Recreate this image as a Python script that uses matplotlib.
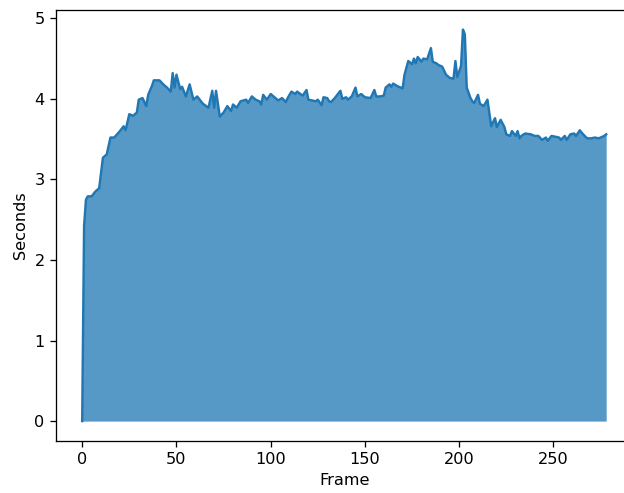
import matplotlib
matplotlib.use('Agg')
import matplotlib.pyplot as plt

# frame index and time per frame
frames = [0, 1, 2, 3, 5, 7, 9, 11, 13, 15, 17, 20, 22, 23, 25, 27, 29, 30, 32, 34,
          35, 37, 38, 41, 43, 45, 47, 48, 49, 50, 52, 53, 55, 57, 59, 61, 64, 67, 69, 70,
          71, 73, 75, 77, 79, 80, 82, 84, 87, 88, 90, 92, 94, 95, 96, 98, 100, 102, 104, 106,
          108, 109, 111, 113, 114, 117, 119, 120, 122, 124, 125, 127, 128, 130, 131, 132, 134, 137, 138, 140,
          141, 143, 145, 146, 148, 150, 153, 155, 156, 158, 160, 161, 163, 164, 165, 167, 168, 170, 171, 173,
          175, 176, 177, 178, 180, 181, 183, 185, 186, 188, 189, 191, 193, 195, 197, 198, 199, 201, 202, 203,
          204, 206, 207, 208, 210, 211, 213, 215, 217, 219, 220, 222, 224, 225, 227, 228, 230, 231, 232, 233,
          235, 238, 240, 242, 244, 246, 247, 249, 253, 254, 256, 257, 259, 261, 262, 264, 265, 267, 268, 270,
          272, 274, 276, 277, 278]
seconds = [0.0, 2.42, 2.75, 2.79, 2.79, 2.85, 2.89, 3.27, 3.31, 3.52, 3.52, 3.60, 3.66, 3.61, 3.81, 3.79, 3.83, 3.99, 4.01, 3.91,
           4.05, 4.16, 4.23, 4.23, 4.18, 4.14, 4.09, 4.32, 4.14, 4.30, 4.12, 4.15, 4.03, 4.18, 3.99, 4.03, 3.94, 3.89, 4.10, 3.89,
           4.10, 3.78, 3.83, 3.91, 3.85, 3.93, 3.89, 3.97, 3.99, 3.95, 4.03, 3.99, 3.97, 3.93, 4.05, 3.99, 4.06, 4.02, 3.98, 4.01,
           3.96, 4.01, 4.09, 4.06, 4.09, 4.04, 4.11, 3.99, 3.98, 3.97, 3.99, 3.92, 4.02, 4.01, 3.97, 3.96, 4.01, 4.10, 4.00, 4.02,
           3.99, 4.03, 4.14, 4.03, 4.06, 4.02, 4.01, 4.11, 4.03, 4.03, 4.04, 4.14, 4.18, 4.15, 4.19, 4.16, 4.15, 4.13, 4.30, 4.47,
           4.43, 4.50, 4.44, 4.52, 4.46, 4.50, 4.49, 4.63, 4.46, 4.44, 4.42, 4.40, 4.30, 4.26, 4.25, 4.47, 4.27, 4.41, 4.86, 4.80,
           4.14, 4.01, 3.97, 3.95, 4.05, 3.94, 3.91, 3.99, 3.66, 3.76, 3.65, 3.74, 3.65, 3.56, 3.54, 3.60, 3.54, 3.60, 3.51, 3.54,
           3.57, 3.56, 3.54, 3.54, 3.49, 3.52, 3.48, 3.54, 3.52, 3.49, 3.54, 3.49, 3.56, 3.57, 3.54, 3.61, 3.58, 3.53, 3.51, 3.51,
           3.52, 3.51, 3.53, 3.54, 3.56]

# the reference is a zoomed-in crop of a default figure, so render at a higher dpi
DPI = 116.4
fig = plt.figure(figsize=(624 / DPI, 493 / DPI), dpi=DPI)
# right spine sits just outside the picture, as in the reference crop
ax = fig.add_axes([56 / 624, 52.3 / 493, 576.4 / 624, 430.7 / 493])

ax.fill_between(frames, seconds, color='C0', alpha=0.75, linewidth=0)
ax.plot(frames, seconds, color='C0', linewidth=1.5)

ax.set_xlabel('Frame')
ax.set_ylabel('Seconds')

fig.savefig('out.png', dpi=DPI)
